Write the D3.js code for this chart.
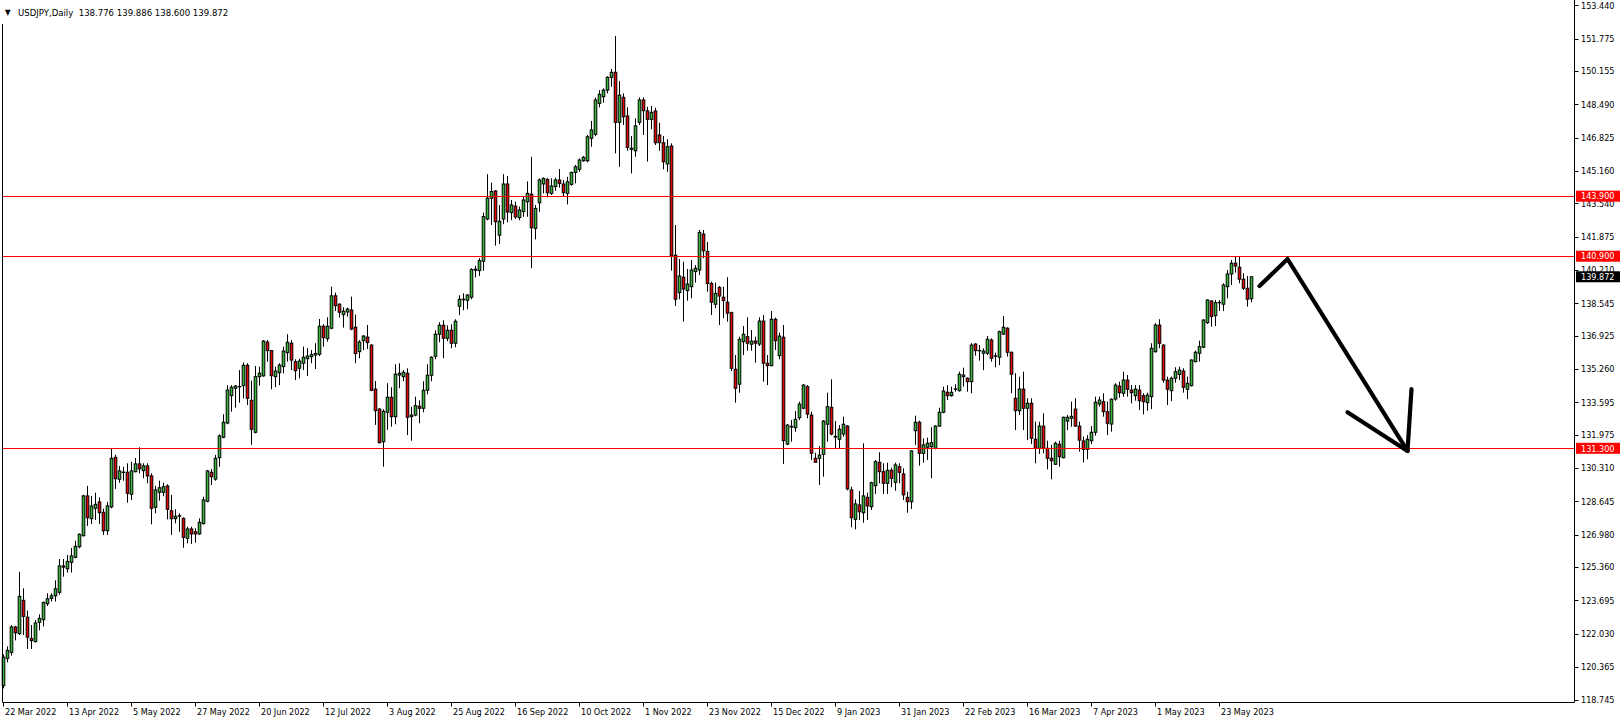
<!DOCTYPE html>
<html><head><meta charset="utf-8">
<script src="https://cdn.jsdelivr.net/npm/d3@7"></script>
<style>
html,body{margin:0;padding:0;background:#fff;overflow:hidden;}
svg{display:block;}
text{font-family:"DejaVu Sans Condensed","DejaVu Sans",sans-serif;font-size:9px;fill:#000;}
</style></head><body>
<svg id="c" width="1620" height="723"></svg>
<script>
// ---- DATA (USDJPY daily bars) ----
const open = [119.44,120.8,121.1,122.37,122.04,123.7,122.86,121.8,121.64,122.6,122.73,123.53,123.8,123.93,124.1,125.42,125.28,125.6,125.85,126.38,
126.93,128.92,127.78,128.3,128.62,128.1,127.18,128.37,130.85,129.75,130.11,130.1,129.0,130.13,130.52,130.18,130.42,129.92,128.35,129.1,
129.1,129.42,128.18,127.78,127.93,127.8,126.8,127.27,127.13,127.02,127.53,128.65,130.1,129.76,130.83,131.85,132.56,133.93,134.3,134.39,
134.43,135.45,133.7,132.1,134.88,134.92,136.61,136.18,134.88,135.08,135.38,136.08,136.55,135.63,135.3,135.55,135.78,135.88,135.96,136.0,
137.4,136.78,137.3,138.92,138.5,137.98,138.11,138.21,137.35,136.13,136.68,136.86,136.46,134.26,133.26,131.63,133.1,133.85,132.88,134.96,
134.88,135.05,132.88,132.96,133.4,133.3,134.2,134.95,135.9,137.0,137.45,136.8,137.2,136.55,138.4,138.75,138.7,138.85,140.2,140.18,
140.65,142.76,143.8,144.16,141.95,142.76,144.51,143.08,143.4,142.83,143.13,143.62,144.0,142.29,143.57,144.51,144.74,144.04,144.38,144.71,
144.51,144.04,144.49,145.09,145.24,145.67,145.67,146.79,146.99,148.54,148.87,149.2,149.84,150.09,147.59,148.84,147.91,146.24,146.17,147.59,
148.71,148.16,147.74,148.16,146.96,146.57,145.51,146.41,140.95,139.08,139.85,139.18,139.38,140.13,140.21,142.01,141.14,139.54,138.5,139.34,
138.85,138.6,138.08,135.25,134.5,136.63,136.88,136.5,136.66,136.51,137.66,135.55,135.43,137.75,135.93,136.85,131.51,132.4,132.33,132.83,
133.3,134.38,132.96,130.8,130.8,131.0,132.5,133.35,131.9,131.75,132.01,132.41,129.22,127.75,128.47,128.08,128.85,128.38,129.43,130.6,
130.13,129.55,130.2,129.6,130.38,130.02,128.85,128.63,132.18,132.6,131.05,131.35,131.38,131.3,132.41,133.1,134.1,133.93,134.27,134.18,
134.88,134.8,134.63,136.51,136.19,136.05,136.05,136.71,135.92,135.85,137.01,137.3,136.1,133.8,133.18,134.26,133.3,133.55,131.75,131.3,
132.41,131.3,130.8,130.5,131.5,130.83,132.66,132.8,133.26,132.41,131.67,131.25,131.68,132.1,133.51,133.63,133.13,132.51,133.76,134.41,
134.05,134.71,134.21,133.93,134.21,133.93,133.58,133.88,136.13,137.46,136.46,134.71,134.18,134.8,134.99,135.16,134.25,134.43,135.63,136.05,
136.35,137.58,138.66,137.93,138.59,138.5,139.38,140.01,140.55,140.35,139.75,139.3,138.776];
const high = [121.0,121.4,122.47,122.42,125.13,124.3,123.19,122.47,122.72,123.0,123.63,124.05,124.05,124.7,125.77,125.77,125.97,126.32,126.68,127.05,
128.98,129.42,128.92,129.08,128.85,128.28,128.62,131.27,130.98,130.42,130.38,130.55,130.63,130.82,131.35,130.55,130.55,130.05,129.42,129.68,
129.58,129.5,128.97,128.25,128.05,127.85,127.38,127.38,127.3,127.8,128.88,130.22,130.27,130.97,132.0,133.0,134.45,134.46,134.46,135.21,
135.6,135.55,134.68,135.41,135.38,136.71,136.71,136.2,135.38,135.55,136.38,137.0,136.71,135.75,135.78,136.38,136.3,136.21,136.55,137.76,
137.5,137.85,139.38,139.08,138.55,138.35,138.33,138.88,137.98,136.71,136.96,137.46,136.5,134.66,133.3,133.25,134.55,134.35,135.5,135.55,
135.21,135.3,133.38,133.88,133.7,134.65,135.5,135.9,137.2,137.6,137.7,137.45,137.5,137.75,138.95,139.05,139.0,140.3,140.42,140.8,
143.08,145.0,144.58,144.2,143.46,145.0,144.91,143.71,143.63,143.38,143.9,144.64,145.87,143.46,144.79,144.84,144.8,144.79,144.82,145.26,
144.71,144.87,145.12,145.46,145.79,145.91,146.96,147.66,148.82,149.2,149.29,149.9,150.26,151.9,149.65,149.04,148.34,146.91,147.79,148.84,
148.84,148.37,148.41,148.32,147.57,146.91,146.74,146.54,142.46,140.76,140.62,140.26,140.71,140.46,142.21,142.21,141.61,139.63,139.58,139.41,
139.38,139.85,138.13,135.96,136.88,137.41,137.85,137.21,136.88,137.85,137.96,135.96,138.16,137.83,137.08,137.46,132.51,132.71,133.16,133.63,
134.51,134.46,133.13,131.08,131.41,132.71,134.08,134.75,132.66,132.46,132.88,132.46,129.38,128.75,129.17,131.55,129.08,129.63,130.72,131.1,
130.55,130.58,130.33,130.58,130.55,130.3,129.13,131.2,132.93,132.68,131.8,131.83,132.35,132.45,133.33,134.38,134.46,134.38,134.5,135.13,
135.33,134.85,136.55,136.55,136.46,136.3,136.91,136.8,136.08,137.18,137.91,137.35,136.13,135.05,134.88,135.13,133.8,133.8,132.63,132.63,
133.05,131.68,131.47,131.63,131.68,132.88,132.96,133.63,133.8,132.63,131.88,131.96,132.41,133.88,133.88,134.05,133.63,133.8,134.55,134.63,
135.13,134.96,134.46,134.46,134.46,134.05,134.08,136.55,137.55,137.75,136.5,134.88,134.88,135.35,135.38,135.3,134.88,135.75,136.18,136.68,
137.75,138.75,138.71,138.71,138.71,139.55,140.21,140.71,140.91,140.91,140.05,139.91,139.886];
const low = [119.3,120.6,120.94,121.7,121.97,121.97,121.27,121.27,121.59,122.2,122.4,123.42,123.64,123.64,123.98,124.88,125.09,125.09,125.8,126.3,
126.9,127.42,127.52,127.72,127.52,126.97,126.97,128.3,129.27,129.58,129.68,128.58,128.72,130.1,130.05,129.8,129.55,127.5,128.05,128.68,
128.9,127.75,126.97,127.55,127.13,126.33,126.55,126.52,126.58,126.97,127.5,128.6,129.47,129.68,130.38,131.8,132.5,133.13,133.33,133.58,
133.8,133.46,131.47,132.05,134.43,134.88,135.63,134.25,134.35,134.46,135.05,135.63,135.21,134.71,134.8,135.21,134.91,135.55,135.26,135.91,
136.38,136.63,137.25,138.16,137.83,137.33,137.88,137.2,135.55,135.8,136.21,136.26,134.15,132.47,131.55,130.38,132.22,132.38,132.5,134.3,
134.66,131.96,131.68,132.9,132.55,133.1,134.0,134.65,135.75,136.6,135.8,136.65,136.3,136.35,137.95,138.2,138.25,138.75,139.84,139.91,
140.18,142.7,142.46,141.43,141.51,142.5,142.6,142.7,142.76,142.7,142.87,142.87,140.3,141.74,143.12,144.04,143.84,143.96,144.17,144.33,
143.87,143.49,144.42,144.54,145.12,145.62,145.59,146.37,146.9,148.34,148.57,149.04,149.37,146.04,145.37,147.46,146.17,145.04,145.87,147.46,
146.96,145.63,147.24,146.46,146.17,145.24,145.12,140.18,138.41,138.75,137.63,138.68,138.8,139.58,139.96,140.8,139.13,137.96,138.3,137.46,
137.8,137.63,135.16,133.58,134.08,135.96,136.18,136.18,135.58,136.41,134.63,134.46,135.4,136.21,135.75,130.52,131.46,131.63,132.13,132.71,
133.25,132.8,130.72,130.58,129.47,129.88,131.63,131.95,131.3,131.3,131.88,129.2,127.35,127.25,127.72,127.58,127.72,128.22,129.02,129.55,
129.02,129.02,129.35,129.18,129.55,128.72,128.08,128.27,131.47,130.43,130.58,130.72,129.8,131.25,132.38,133.05,133.71,133.88,134.13,134.13,
134.38,134.13,134.05,135.93,135.68,135.21,135.96,135.63,135.35,135.46,136.96,135.88,134.05,132.21,132.96,132.21,131.71,131.51,130.55,131.02,
131.05,130.25,129.75,130.47,130.38,130.8,132.21,132.38,132.38,131.13,130.6,130.75,131.51,131.93,133.38,132.88,131.96,132.13,133.68,133.83,
133.88,133.88,133.55,133.68,133.21,132.99,133.18,133.26,136.08,136.3,134.58,133.46,133.66,134.58,134.71,134.08,133.75,134.38,135.6,135.63,
136.3,137.51,137.38,137.41,138.16,138.16,138.8,139.46,140.08,139.55,139.21,138.38,138.6];
const close = [120.86,121.2,122.37,122.08,123.9,122.9,121.86,121.69,122.57,122.8,123.6,123.78,123.93,124.28,125.42,125.36,125.65,125.92,126.4,127.0,
128.92,127.83,128.42,128.5,128.08,127.18,128.42,130.8,129.78,130.17,130.09,129.05,130.17,130.52,130.27,130.42,129.92,128.3,129.22,129.33,
129.38,128.25,127.78,127.9,127.91,126.85,127.27,127.02,127.02,127.6,128.72,130.17,129.88,130.8,131.92,132.6,134.21,134.35,134.41,134.37,
135.45,133.8,132.25,134.88,135.05,136.66,136.18,134.93,135.16,135.46,136.16,136.6,135.71,135.18,135.66,135.85,135.91,135.98,136.04,137.4,
136.83,137.4,138.92,138.43,138.1,138.15,138.26,137.26,136.03,136.61,136.91,136.58,134.2,133.18,131.58,133.15,133.85,132.88,135.0,135.05,
135.1,132.85,132.96,133.43,133.3,134.2,134.95,135.85,137.0,137.45,136.8,137.2,136.55,137.65,138.75,138.72,138.96,140.23,140.25,140.68,
142.88,143.8,144.13,142.62,142.65,144.51,143.11,143.46,142.86,143.21,143.71,144.04,142.32,143.29,144.71,144.79,144.07,144.41,144.71,144.54,
144.08,144.62,145.09,145.37,145.71,145.84,146.87,147.21,148.71,148.99,149.2,149.84,150.09,147.59,148.95,147.87,146.34,146.3,147.41,148.71,
148.17,147.74,148.09,146.57,146.57,145.62,146.37,140.91,138.75,139.91,139.26,139.51,140.21,140.3,142.09,141.17,139.54,138.6,139.04,138.91,
138.68,138.05,135.3,134.3,136.75,137.0,136.55,136.66,136.55,137.66,135.55,135.43,137.75,136.68,136.91,131.68,132.46,132.36,132.75,133.51,
134.46,133.01,131.05,130.6,130.96,132.66,133.38,132.01,131.86,132.25,132.5,129.27,127.83,128.52,128.13,128.92,128.42,129.58,130.63,130.13,
129.55,130.2,129.8,130.47,130.1,128.97,128.63,131.17,132.6,131.05,131.47,131.55,131.58,132.41,133.1,134.16,133.93,134.1,134.25,135.0,
134.96,134.63,136.46,136.18,136.17,136.16,136.75,135.8,135.9,137.13,137.35,136.1,135.0,133.18,134.26,133.3,133.55,131.8,131.3,132.41,
131.3,130.8,130.68,131.55,130.88,132.85,132.85,132.9,132.41,131.71,131.25,131.75,132.1,133.6,133.71,133.13,132.55,133.75,134.46,134.08,
134.71,134.25,134.08,134.26,133.68,133.63,133.96,136.3,137.46,136.55,134.71,134.25,134.8,135.13,135.21,134.35,134.55,135.71,136.1,136.38,
137.71,138.71,137.88,138.58,138.57,139.46,140.01,140.55,140.41,139.75,139.3,138.75,139.872];

const priceTicks = [153.440,151.775,150.155,148.490,146.825,145.160,143.540,141.875,140.210,138.545,136.925,
  135.260,133.595,131.975,130.310,128.645,126.980,125.360,123.695,122.030,120.365,118.745];
const dateLabels = ["22 Mar 2022","13 Apr 2022","5 May 2022","27 May 2022","20 Jun 2022","12 Jul 2022","3 Aug 2022",
  "25 Aug 2022","16 Sep 2022","10 Oct 2022","1 Nov 2022","23 Nov 2022","15 Dec 2022","9 Jan 2023","31 Jan 2023",
  "22 Feb 2023","16 Mar 2023","7 Apr 2023","1 May 2023","23 May 2023"];
const dateLabelBars = [0,16,32,48,64,80,96,112,128,144,160,176,192,208,224,240,256,272,288,304];
const levels = [143.900,140.900,131.300];
const lastPrice = 139.872;
const symbolText = "USDJPY,Daily";
const ohlcText = "138.776 139.886 138.600 139.872";
// hand-drawn arrow, as [bar index, price]
const arrowMain = [[314,139.41],[321,140.76],[351,131.17]];
const arrowHeadLeft = [[336,133.10],[351,131.17]];
const arrowHeadRight = [[351,131.17],[352,134.26]];

// ---- LAYOUT ----
const W = 1620, H = 723;
const plotLeft = 2.5, plotRight = 1574.5, plotBottom = 702.5;
const x = d3.scaleLinear().domain([0, 1]).range([3.5, 7.5]);
const y = d3.scaleLinear().domain([118.745, 153.44]).range([699.5, 5.3]);
const bull = "#38b838", bear = "#e60000";

const svg = d3.select("#c");
svg.append("rect").attr("width", W).attr("height", H).attr("fill", "#fff");

const bars = d3.range(open.length).map(i => ({i, o: open[i], h: high[i], l: low[i], c: close[i]}));

// candles
const g = svg.append("g");
g.selectAll("line.wick").data(bars).join("line")
  .attr("x1", d => x(d.i)).attr("x2", d => x(d.i))
  .attr("y1", d => y(d.h)).attr("y2", d => y(d.l))
  .attr("stroke", "#000").attr("stroke-width", 1);
g.selectAll("rect.body").data(bars).join("rect")
  .attr("x", d => x(d.i) - 1.3).attr("width", 2.6)
  .attr("y", d => y(Math.max(d.o, d.c)))
  .attr("height", d => Math.max(0.01, Math.abs(y(d.o) - y(d.c))))
  .attr("fill", d => d.c >= d.o ? bull : bear)
  .attr("stroke", "#000").attr("stroke-width", 1);

// horizontal levels
svg.selectAll("line.level").data(levels).join("line")
  .attr("x1", plotLeft).attr("x2", plotRight)
  .attr("y1", d => Math.round(y(d)) + 0.5).attr("y2", d => Math.round(y(d)) + 0.5)
  .attr("stroke", "#ff0000").attr("stroke-width", 1);

// arrow
const line = d3.line().x(d => x(d[0])).y(d => y(d[1]));
[arrowMain, arrowHeadLeft, arrowHeadRight].forEach(pts => {
  svg.append("path").attr("d", line(pts)).attr("fill", "none")
    .attr("stroke", "#000").attr("stroke-width", 4.2)
    .attr("stroke-linecap", "round").attr("stroke-linejoin", "miter");
});

// frame
svg.append("line").attr("x1", plotLeft).attr("x2", plotLeft).attr("y1", 24).attr("y2", plotBottom).attr("stroke", "#000");
svg.append("line").attr("x1", plotRight).attr("x2", plotRight).attr("y1", 0).attr("y2", plotBottom).attr("stroke", "#000");
svg.append("line").attr("x1", plotLeft).attr("x2", plotRight).attr("y1", plotBottom).attr("y2", plotBottom).attr("stroke", "#000");

// price axis
const pa = svg.append("g");
pa.selectAll("line").data(priceTicks).join("line")
  .attr("x1", plotRight).attr("x2", plotRight + 4)
  .attr("y1", d => Math.round(y(d)) + 0.5).attr("y2", d => Math.round(y(d)) + 0.5)
  .attr("stroke", "#000");
pa.selectAll("text").data(priceTicks).join("text")
  .attr("x", 1581).attr("y", d => y(d)).attr("dy", "0.36em")
  .text(d => d3.format(".3f")(d));

// level labels
const lv = svg.append("g");
lv.selectAll("rect").data(levels).join("rect")
  .attr("x", 1576).attr("width", 44).attr("y", d => y(d) - 5.5).attr("height", 11).attr("fill", "#ff0000");
lv.selectAll("text").data(levels).join("text")
  .attr("x", 1581).attr("y", d => y(d)).attr("dy", "0.36em").style("fill", "#fff")
  .text(d => d3.format(".3f")(d));
svg.append("rect").attr("x", 1576).attr("width", 44).attr("y", y(lastPrice) - 5.5).attr("height", 11).attr("fill", "#000");
svg.append("text").attr("x", 1581).attr("y", y(lastPrice)).attr("dy", "0.36em").style("fill", "#fff")
  .text(d3.format(".3f")(lastPrice));

// time axis
const ta = svg.append("g");
ta.selectAll("line").data(dateLabelBars).join("line")
  .attr("x1", d => x(d)).attr("x2", d => x(d))
  .attr("y1", plotBottom).attr("y2", plotBottom + 4).attr("stroke", "#000");
ta.selectAll("text").data(dateLabels).join("text")
  .attr("x", (d, k) => x(dateLabelBars[k]) + 1.5).attr("y", 715)
  .text(d => d);

// header
svg.append("text").attr("x", 5).attr("y", 15).style("font-size", "8px").text("\u25BC");
svg.append("text").attr("x", 18).attr("y", 15.5).style("font-size", "9.5px")
  .attr("xml:space", "preserve").style("white-space", "pre")
  .text(symbolText + "  " + ohlcText);
</script>
</body></html>
